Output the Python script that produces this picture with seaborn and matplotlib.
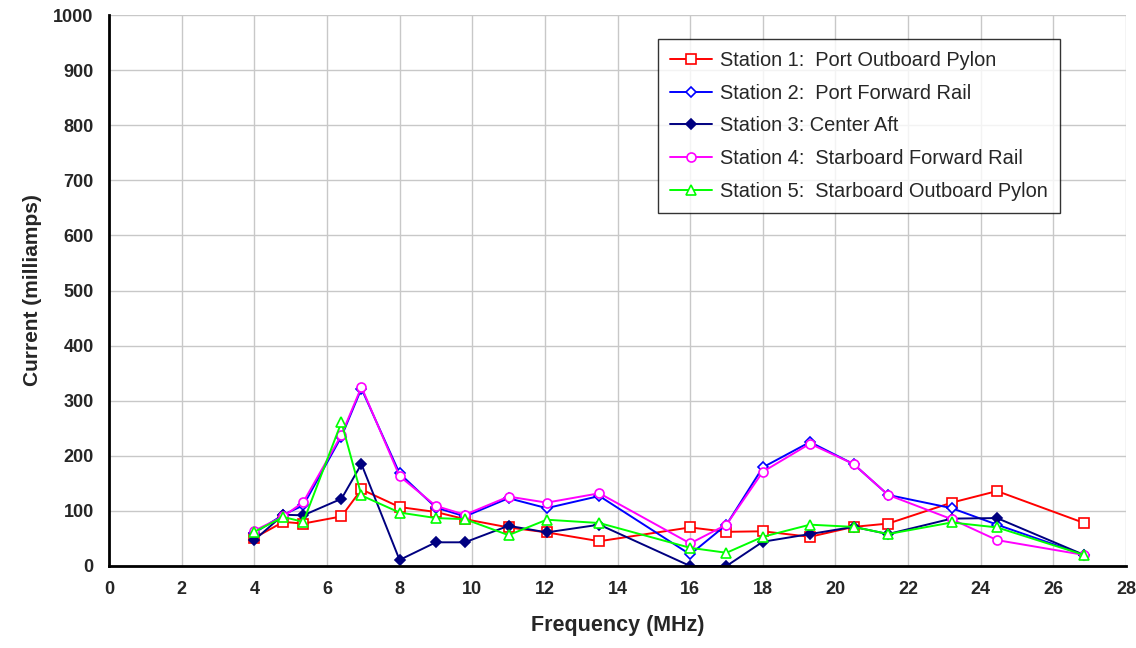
import matplotlib
matplotlib.use("Agg")
import matplotlib.pyplot as plt
import seaborn as sns
import pandas as pd

freq = [4.0, 4.8, 5.35, 6.4, 6.95, 8.0, 9.0, 9.8, 11.0, 12.05, 13.5,
        16.0, 17.0, 18.0, 19.3, 20.5, 21.45, 23.2, 24.45, 26.85]

station1 = [51, 80, 77, 90, 139, 107, 98, 85, 70, 61, 45, 70, 62, 63, 53, 71, 77, 115, 136, 78]
station2 = [60, 93, 110, 235, 322, 168, 106, 90, 123, 105, 127, 21, 75, 179, 225, 185, 129, 105, 75, 20]
station3 = [47, 93, 92, 122, 185, 11, 43, 43, 73, 61, 75, 0, 0, 44, 58, 71, 58, 86, 87, 20]
station4 = [64, 90, 116, 238, 325, 163, 109, 93, 126, 115, 132, 41, 75, 171, 222, 185, 129, 85, 47, 20]
station5 = [62, 89, 80, 261, 128, 97, 87, 85, 56, 84, 78, 33, 24, 53, 75, 71, 58, 79, 70, 20]

labels = ["Station 1:  Port Outboard Pylon",
          "Station 2:  Port Forward Rail",
          "Station 3: Center Aft",
          "Station 4:  Starboard Forward Rail",
          "Station 5:  Starboard Outboard Pylon"]
series = [station1, station2, station3, station4, station5]
colors = ["#FF0000", "#0000FF", "#000080", "#FF00FF", "#00FF00"]
markers = ["s", "D", "D", "o", "^"]
filled = [False, False, True, False, False]

sns.set_style("white")
plt.rcParams['font.family'] = ['Liberation Sans', 'DejaVu Sans']

fig = plt.figure(figsize=(11.36, 6.48), dpi=100)
ax = fig.add_axes([109/1136, 1 - 566/648, (1126-109)/1136, (566-15)/648])

for lab, vals, c, m, f in zip(labels, series, colors, markers, filled):
    df = pd.DataFrame({"Frequency": freq, "Current": vals})
    ms = 6.5 if m == "s" else (5.5 if m == "D" else 6.5)
    sns.lineplot(data=df, x="Frequency", y="Current", ax=ax, color=c,
                 marker=m, markersize=ms, markeredgecolor=c,
                 markerfacecolor=(c if f else "white"), markeredgewidth=1.2,
                 linewidth=1.4, label=lab, sort=False)

ax.set_xlim(0, 28)
ax.set_ylim(0, 1000)
ax.set_xticks(range(0, 29, 2))
ax.set_yticks(range(0, 1001, 100))
ax.grid(True, color="#C8C8C8", linewidth=1)
ax.set_axisbelow(True)
for s in ["top", "right"]:
    ax.spines[s].set_visible(False)
for s in ["left", "bottom"]:
    ax.spines[s].set_color("black")
    ax.spines[s].set_linewidth(2)
ax.tick_params(axis="both", direction="inout", length=10, width=1.5, color="black",
               labelsize=13, pad=6)
ax.tick_params(axis="y", direction="out", length=7, pad=4)
for t in ax.get_xticklabels() + ax.get_yticklabels():
    t.set_fontweight("bold")

ax.set_xlabel("Frequency (MHz)", fontsize=15.5, fontweight="bold", labelpad=12)
ax.set_ylabel("Current (milliamps)", fontsize=15, fontweight="bold", labelpad=8)

leg = ax.legend(loc="upper left", bbox_to_anchor=(0.540, 0.956), frameon=True,
                fontsize=14.4, handlelength=2.1, borderpad=0.6, labelspacing=0.68,
                handletextpad=0.4, fancybox=False, borderaxespad=0)
leg.get_frame().set_edgecolor("black")
leg.get_frame().set_linewidth(1)

fig.savefig("out.png", dpi=100)
